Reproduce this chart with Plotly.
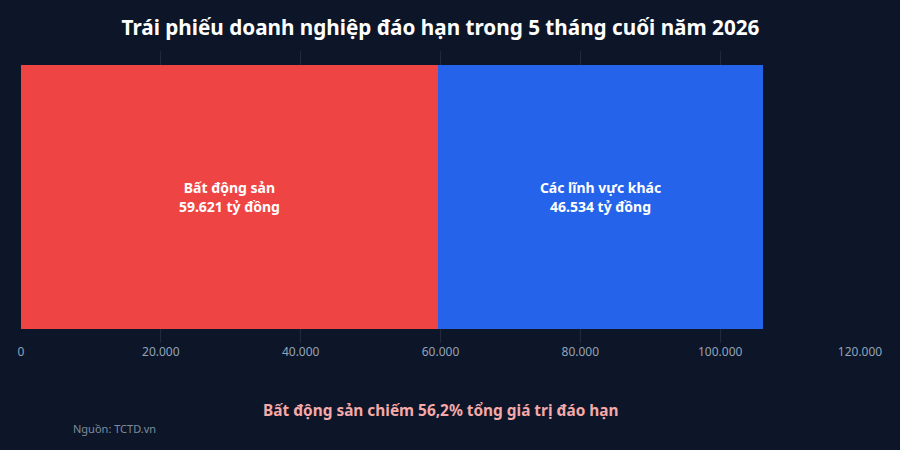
import plotly.graph_objects as go

# Data
categories = ["Trái phiếu"]
sector_names = ["Bất động sản", "Các lĩnh vực khác"]
sector_values = [59621, 46534]
sector_colors = ["#ef4444", "#2563eb"]
tick_values = [0, 20000, 40000, 60000, 80000, 100000, 120000]
tick_labels = ["0", "20.000", "40.000", "60.000", "80.000", "100.000", "120.000"]


def vn_number(v):
    return f"{v:,}".replace(",", ".")


fig = go.Figure()

for name, value, color in zip(sector_names, sector_values, sector_colors):
    fig.add_trace(
        go.Bar(
            name=name,
            y=categories,
            x=[value],
            orientation="h",
            marker=dict(color=color, line=dict(width=0)),
            text=[f"<b>{name}<br>{vn_number(value)} tỷ đồng</b>"],
            textposition="inside",
            insidetextanchor="middle",
            textfont=dict(color="#ffffff", size=14, family="Noto Sans"),
            hoverinfo="skip",
        )
    )

share = sector_values[0] / sum(sector_values) * 100

fig.update_layout(
    width=900,
    height=450,
    barmode="stack",
    bargap=0.095,
    showlegend=False,
    paper_bgcolor="#0c1628",
    plot_bgcolor="#0c1628",
    font=dict(family="Noto Sans", color="#94a3b8"),
    margin=dict(l=21, r=40, t=51, b=107),
    title=dict(
        text="<b>Trái phiếu doanh nghiệp đáo hạn trong 5 tháng cuối năm 2026</b>",
        xref="paper",
        x=0.5,
        xanchor="center",
        y=0.938,
        yanchor="middle",
        font=dict(size=20.7, color="#ffffff", family="Noto Sans"),
    ),
    xaxis=dict(
        range=[0, 120000],
        tickvals=tick_values,
        ticktext=tick_labels,
        showgrid=True,
        gridcolor="#1f2a3c",
        gridwidth=1,
        zeroline=False,
        showline=False,
        ticks="",
        tickfont=dict(size=12, color="#94a3b8"),
    ),
    yaxis=dict(showticklabels=False, showgrid=False, zeroline=False),
)

fig.add_annotation(
    text=f"<b>Bất động sản chiếm {share:.1f}% tổng giá trị đáo hạn</b>".replace(".", ","),
    xref="paper",
    yref="paper",
    x=0.5,
    y=-0.23,
    xanchor="center",
    yanchor="middle",
    showarrow=False,
    font=dict(size=15.4, color="#f5a9a9", family="Noto Sans"),
)

fig.add_annotation(
    text="Nguồn: TCTD.vn",
    xref="paper",
    yref="paper",
    x=0.059,
    y=-0.292,
    xanchor="left",
    yanchor="middle",
    showarrow=False,
    font=dict(size=11, color="#7f8b9d", family="Noto Sans"),
)

# drop the page margin so the figure sits at the window's corner
fig.write_html(
    "out.html",
    config={"displayModeBar": False},
    post_script="document.body.style.margin='0';",
)
